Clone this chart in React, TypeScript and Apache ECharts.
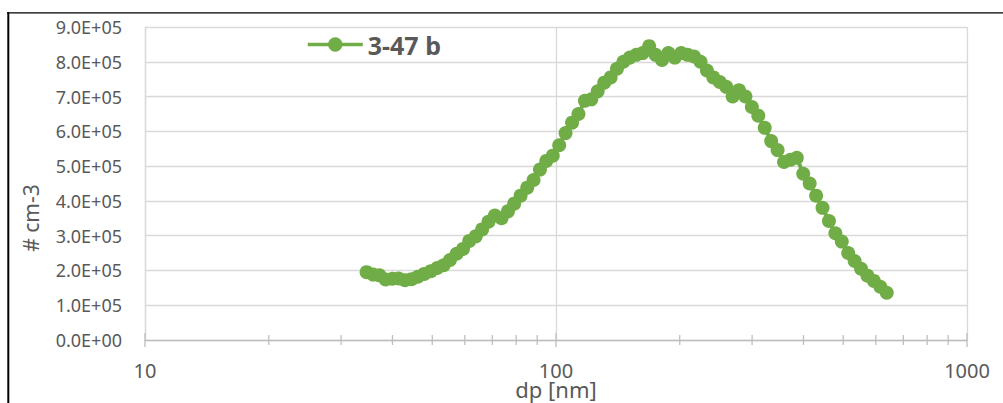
import React, { useEffect, useRef } from "react";
import * as echarts from "echarts";

// Particle diameter (nm), SMPS channel midpoints
const dpValues = [
  34.6, 35.9, 37.2, 38.5, 40.0, 41.4, 42.9, 44.5, 46.1, 47.8,
  49.6, 51.4, 53.3, 55.2, 57.3, 59.4, 61.5, 63.8, 66.1, 68.5,
  71.0, 73.7, 76.4, 79.1, 82.0, 85.1, 88.2, 91.4, 94.7, 98.2,
  101.8, 105.5, 109.4, 113.4, 117.6, 121.9, 126.3, 131.0, 135.8, 140.7,
  145.9, 151.2, 156.8, 162.5, 168.5, 174.7, 181.1, 187.7, 194.6, 201.7,
  209.1, 216.7, 224.7, 232.9, 241.4, 250.3, 259.5, 269.0, 278.8, 289.0,
  299.6, 310.6, 322.0, 333.8, 346.0, 358.7, 371.8, 385.4, 399.5, 414.2,
  429.4, 445.1, 461.4, 478.3, 495.8, 514.0, 532.8, 552.3, 572.5, 593.5,
  615.3, 637.8,
];

// Number concentration (# cm-3), series "3-47 b"
const concentration = [
  195000, 188000, 186000, 174000, 176000, 177000, 172000, 175000, 182000, 190000,
  198000, 207000, 215000, 230000, 248000, 262000, 285000, 298000, 318000, 340000,
  358000, 350000, 370000, 392000, 415000, 438000, 460000, 490000, 515000, 530000,
  560000, 595000, 625000, 650000, 688000, 692000, 715000, 740000, 755000, 780000,
  800000, 812000, 820000, 825000, 845000, 820000, 805000, 825000, 812000, 825000,
  820000, 815000, 800000, 775000, 755000, 742000, 728000, 700000, 718000, 700000,
  670000, 645000, 610000, 572000, 546000, 512000, 518000, 524000, 478000, 450000,
  415000, 380000, 342000, 307000, 283000, 250000, 227000, 205000, 185000, 170000,
  153000, 136000,
];

const seriesName = "3-47 b";
const xMajorTicks = [10, 100, 1000];
const xMinorTicks = [20, 30, 40, 50, 60, 70, 80, 90, 200, 300, 400, 500, 600, 700, 800, 900];
const xTitle = "dp [nm]";
const yTitle = "# cm-3";

const fmtSci = (v: number) => {
  if (v === 0) return "0.0E+00";
  const e = Math.floor(Math.log10(Math.abs(v)));
  const m = v / Math.pow(10, e);
  const es = (e < 0 ? "-" : "+") + String(Math.abs(e)).padStart(2, "0");
  return m.toFixed(1) + "E" + es;
};

export default function App() {
  const ref = useRef<HTMLDivElement>(null);
  useEffect(() => {
    if (!ref.current) return;
    const chart = echarts.init(ref.current, null, { renderer: "svg" });
    const tickData = [
      ...xMajorTicks.map((v) => [v, 0, 1]),
      ...xMinorTicks.map((v) => [v, 0, 0]),
    ];
    chart.setOption({
      animation: false,
      backgroundColor: "#ffffff",
      textStyle: { fontFamily: "Noto Sans" },
      grid: { left: 145, right: 36, top: 27, bottom: 63, containLabel: false },
      legend: {
        data: [seriesName],
        left: 306,
        top: 32,
        padding: 0,
        itemWidth: 55,
        itemHeight: 18,
        lineStyle: { width: 3.5 },
        textStyle: { fontSize: 25, fontWeight: "bold", color: "#595959", fontFamily: "Noto Sans" },
      },
      xAxis: {
        type: "log",
        logBase: 10,
        min: 10,
        max: 1000,
        axisLine: { show: true, lineStyle: { color: "#bfbfbf", width: 1.3 } },
        axisTick: { show: false },
        splitLine: { show: true, lineStyle: { color: "#d9d9d9", width: 1.3 } },
        axisLabel: {
          fontSize: 20,
          color: "#595959",
          margin: 20,
          formatter: (v: number) => String(Math.round(v)),
        },
      },
      yAxis: {
        type: "value",
        min: 0,
        max: 900000,
        interval: 100000,
        axisLine: { show: true, lineStyle: { color: "#d9d9d9", width: 1.3 } },
        axisTick: { show: false },
        splitLine: { show: true, lineStyle: { color: "#d9d9d9", width: 1.3 } },
        axisLabel: { fontSize: 18, color: "#595959", margin: 23, formatter: fmtSci },
      },
      graphic: [
        {
          type: "line",
          shape: { x1: 8.3, y1: 12, x2: 8.3, y2: 403 },
          style: { stroke: "#000000", lineWidth: 2 },
        },
        {
          type: "line",
          shape: { x1: 7, y1: 12.8, x2: 1003, y2: 12.8 },
          style: { stroke: "#000000", lineWidth: 1.3 },
        },
        {
          type: "text",
          x: 31,
          y: 218,
          rotation: Math.PI / 2,
          style: {
            text: yTitle,
            fontSize: 21,
            fontFamily: "Noto Sans",
            fill: "#595959",
            align: "center",
            verticalAlign: "middle",
          },
        },
        {
          type: "text",
          x: 556,
          y: 389,
          style: {
            text: xTitle,
            fontSize: 22,
            fontFamily: "Noto Sans",
            fill: "#595959",
            align: "center",
            verticalAlign: "middle",
          },
        },
      ],
      series: [
        {
          name: "ticks",
          type: "custom",
          silent: true,
          clip: false,
          z: 3,
          data: tickData,
          renderItem: (params: any, api: any) => {
            const p = api.coord([api.value(0), 0]);
            const half = api.value(2) ? 7 : 5;
            return {
              type: "line",
              shape: { x1: p[0], y1: p[1] - half, x2: p[0], y2: p[1] + half },
              style: { stroke: "#bfbfbf", lineWidth: 1.3 },
            };
          },
        },
        {
          name: seriesName,
          type: "line",
          data: dpValues.map((d, i) => [d, concentration[i]]),
          symbol: "circle",
          symbolSize: 14,
          showSymbol: true,
          color: "#70ad47",
          itemStyle: { color: "#70ad47" },
          lineStyle: { color: "#70ad47", width: 4 },
          z: 5,
        },
      ],
    });
    return () => chart.dispose();
  }, []);
  return (
    <div
      ref={ref}
      style={{ position: "absolute", left: 0, top: 0, width: 1003, height: 403 }}
    />
  );
}
